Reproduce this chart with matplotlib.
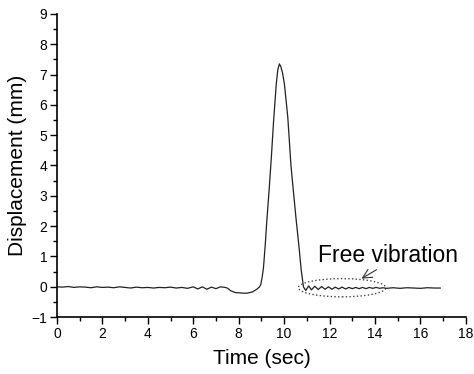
import matplotlib
matplotlib.use("Agg")
import matplotlib.pyplot as plt
from matplotlib.patches import Ellipse
from matplotlib.ticker import MultipleLocator

plt.rcParams['font.family'] = ['Liberation Sans', 'DejaVu Sans']

# Pre-event baseline (sec, mm)
t_base = [0.0, 0.25, 0.5, 0.75, 1.0, 1.25, 1.5, 1.75, 2.0, 2.25, 2.5, 2.75, 3.0,
          3.25, 3.5, 3.75, 4.0, 4.25, 4.5, 4.75, 5.0, 5.25, 5.5, 5.75, 6.0,
          6.2, 6.4, 6.6, 6.8, 7.0, 7.2, 7.4]
d_base = [0.0, -0.01, 0.01, -0.02, 0.0, -0.01, -0.03, 0.0, -0.02, -0.01, -0.03,
          0.0, -0.02, -0.04, -0.01, -0.03, -0.02, -0.04, -0.02, -0.03, -0.01,
          -0.04, -0.02, -0.05, 0.0, -0.07, 0.0, -0.08, -0.01, -0.06, 0.0, -0.02]

# Dip and main pulse
t_pulse = [7.5, 7.65, 7.85, 8.05, 8.2, 8.36, 8.6, 8.8, 8.92, 8.97, 9.03, 9.09,
           9.17, 9.24, 9.34, 9.44, 9.53, 9.65, 9.72, 9.79, 9.86, 9.93, 10.01,
           10.16, 10.30, 10.42, 10.53, 10.65, 10.75, 10.85]
d_pulse = [-0.04, -0.13, -0.19, -0.2, -0.21, -0.21, -0.17, -0.08, 0.0, 0.07,
           0.3, 0.62, 1.4, 2.2, 3.2, 4.3, 5.4, 6.65, 7.15, 7.35, 7.25, 7.05,
           6.7, 5.6, 4.0, 3.05, 2.2, 1.35, 0.56, 0.0]

# Free vibration tail
t_free = [10.95, 11.08, 11.2, 11.35, 11.5, 11.65, 11.8, 11.95, 12.1, 12.25, 12.4,
          12.55, 12.7, 12.85, 13.0, 13.15, 13.3, 13.45, 13.6, 13.75, 13.9,
          14.05, 14.2, 14.35, 14.5, 14.8, 15.1, 15.4, 15.7, 16.0, 16.3, 16.6, 16.87]
d_free = [-0.12, 0.03, -0.1, 0.02, -0.09, 0.01, -0.08, 0.0, -0.08, -0.01, -0.07,
          -0.01, -0.07, -0.02, -0.06, -0.02, -0.06, -0.02, -0.06, -0.02, -0.05,
          -0.02, -0.05, -0.03, -0.05, -0.03, -0.05, -0.03, -0.04, -0.05, -0.03,
          -0.04, -0.04]

t = t_base + t_pulse + t_free
d = d_base + d_pulse + d_free

fig = plt.figure(figsize=(4.74, 3.74), dpi=100)
ax = fig.add_axes([0.120, 0.152, 0.863, 0.811])
ax.plot(t, d, color='#222222', lw=0.9)

ax.set_xlim(0, 18)
ax.set_ylim(-1, 9)
ax.xaxis.set_major_locator(MultipleLocator(2))
ax.xaxis.set_minor_locator(MultipleLocator(1))
ax.yaxis.set_major_locator(MultipleLocator(1))
ax.yaxis.set_minor_locator(MultipleLocator(0.5))
ax.spines['top'].set_visible(False)
ax.spines['right'].set_visible(False)
for s in ('left', 'bottom'):
    ax.spines[s].set_linewidth(1.2)
ax.tick_params(which='major', direction='out', length=5, width=1.0, labelsize=10, pad=2)
ax.tick_params(which='minor', direction='out', length=3, width=1.0)

ax.set_xlabel('Time (sec)', fontsize=15, labelpad=6)
ax.set_ylabel('Displacement (mm)', fontsize=15, labelpad=3)

ell = Ellipse((12.55, -0.03), 3.85, 0.6, fill=False, linestyle=':', lw=1.0, color='#444444')
ax.add_patch(ell)
ax.annotate('Free vibration', xy=(13.4, 0.27), xytext=(11.5, 0.82),
            fontsize=16.5, ha='left', va='baseline',
            arrowprops=dict(arrowstyle='->', color='#333333', lw=0.8,
                            shrinkA=0, shrinkB=0, relpos=(0.45, 0.0)))

fig.savefig('out.png', dpi=100)
